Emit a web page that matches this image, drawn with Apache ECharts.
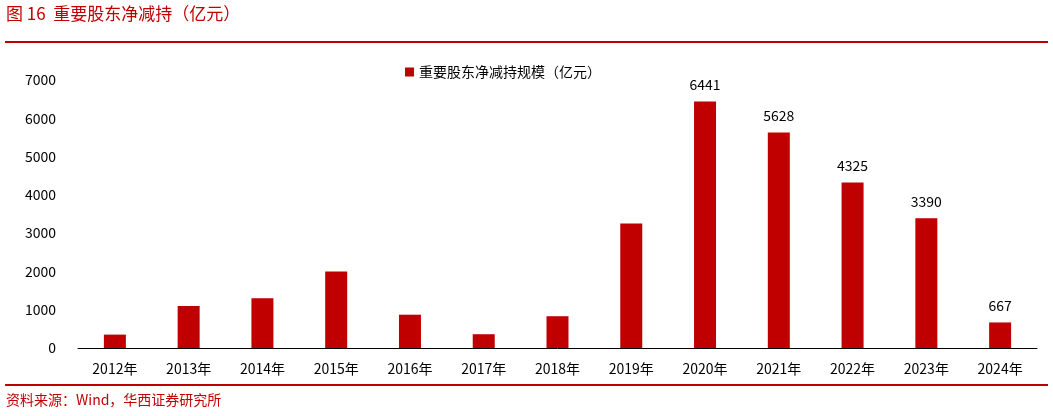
<!DOCTYPE html>
<html>
<head>
<meta charset="utf-8">
<script src="https://cdn.jsdelivr.net/npm/echarts@6/dist/echarts.min.js"></script>
<style>html,body{margin:0;padding:0;background:#fff}#c{width:1053px;height:416px}</style>
</head>
<body>
<div id="c"></div>
<script>
// 数据
const years = ['2012年','2013年','2014年','2015年','2016年','2017年','2018年','2019年','2020年','2021年','2022年','2023年','2024年'];
const values = [350, 1100, 1300, 2000, 870, 360, 830, 3250, 6441, 5628, 4325, 3390, 667];
const labelYears = ['2020年','2021年','2022年','2023年','2024年'];

const chart = echarts.init(document.getElementById('c'));
const font = '"Noto Sans CJK SC", sans-serif';
chart.setOption({
  animation: false,
  textStyle: { fontFamily: font },
  graphic: [
    { type: 'text', left: 6, top: 5, style: { text: '图 16  重要股东净减持（亿元）', fill: '#c00000', font: '17px ' + font } },
    { type: 'rect', shape: { x: 5, y: 41, width: 1043, height: 2 }, style: { fill: '#c00000' } },
    { type: 'rect', shape: { x: 5, y: 384, width: 1043, height: 2 }, style: { fill: '#c00000' } },
    { type: 'text', left: 6, top: 393, style: { text: '资料来源：Wind，华西证券研究所', fill: '#c00000', font: '14px ' + font } }
  ],
  legend: {
    top: 60, left: 400,
    itemWidth: 9, itemHeight: 9, icon: 'rect',
    textStyle: { fontSize: 14, color: '#000' },
    data: ['重要股东净减持规模（亿元）']
  },
  grid: { left: 78, right: 16, top: 80, bottom: 68 },
  xAxis: {
    type: 'category', data: years,
    axisLine: { lineStyle: { color: '#000' } },
    axisTick: { show: false },
    axisLabel: { color: '#000', fontSize: 14, margin: 14 }
  },
  yAxis: {
    type: 'value', min: 0, max: 7000, interval: 1000,
    splitLine: { show: false },
    axisLine: { show: false }, axisTick: { show: false },
    axisLabel: { color: '#000', fontSize: 14, margin: 22, formatter: v => String(v) }
  },
  series: [{
    name: '重要股东净减持规模（亿元）',
    type: 'bar', barWidth: 22,
    itemStyle: { color: '#c00000' },
    data: values.map((v, i) => ({
      value: v,
      label: { show: labelYears.includes(years[i]), position: 'top', distance: 10, color: '#000', fontSize: 14 }
    }))
  }]
});
</script>
</body>
</html>
